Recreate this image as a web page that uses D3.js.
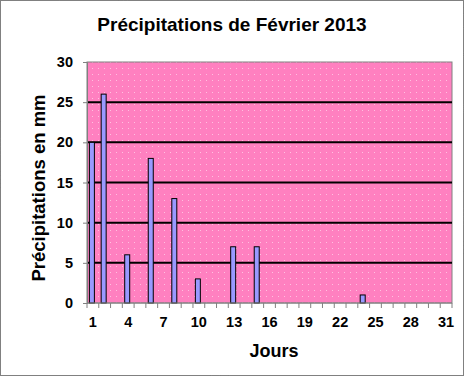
<!DOCTYPE html>
<html><head><meta charset="utf-8">
<script src="https://cdn.jsdelivr.net/npm/d3@7"></script>
<style>body{margin:0;background:#fff}svg{display:block}text{font-family:Arial,"Liberation Sans",sans-serif;font-weight:bold;fill:#000}</style>
</head><body>
<script>
const days = d3.range(1, 32);
const rain = [20,26,0,6,0,18,0,13,0,3,0,0,7,0,7,0,0,0,0,0,0,0,0,1,0,0,0,0,0,0,0];
const yTicks = [0,5,10,15,20,25,30];
const xTickLabels = [1,4,7,10,13,16,19,22,25,28,31];
const title = "Précipitations de Février 2013";
const yLabel = "Précipitations en mm";
const xLabel = "Jours";

const W = 464, H = 376;
const m = {left: 87, right: 12, top: 62, bottom: 73};
const svg = d3.select("body").append("svg").attr("width", W).attr("height", H);
const defs = svg.append("defs");
const pat = defs.append("pattern").attr("id","dots").attr("width",6).attr("height",6).attr("patternUnits","userSpaceOnUse");
pat.append("rect").attr("width",6).attr("height",6).attr("fill","#ff80c0");
pat.append("rect").attr("x",2).attr("y",2).attr("width",1).attr("height",1).attr("fill","#ffc0e0");

svg.append("rect").attr("x",0.5).attr("y",0.5).attr("width",W-1).attr("height",H-1)
  .attr("fill","#fff").attr("stroke","#000").attr("stroke-dasharray","1,1");

const x = d3.scaleBand().domain(days).range([m.left, W - m.right]).paddingInner(0).paddingOuter(0);
const y = d3.scaleLinear().domain([0,30]).range([H - m.bottom, m.top]);

svg.append("rect").attr("x", m.left).attr("y", m.top).attr("width", W - m.right - m.left).attr("height", H - m.bottom - m.top)
  .attr("fill","url(#dots)").attr("stroke","#808080").attr("stroke-width",1);

svg.append("g").selectAll("line").data(yTicks.filter(d=>d>0 && d<30)).join("line")
  .attr("x1", m.left).attr("x2", W - m.right).attr("y1", d=>y(d)).attr("y2", d=>y(d))
  .attr("stroke","#000").attr("stroke-width",2);

const bw = 5;
svg.append("g").selectAll("rect").data(days.filter((d,i)=>rain[i]>0)).join("rect")
  .attr("x", d => x(d) + x.bandwidth()/2 - bw/2 - 1)
  .attr("y", d => y(rain[d-1]))
  .attr("width", bw).attr("height", d => y(0) - y(rain[d-1]))
  .attr("fill","#9999ff").attr("stroke","#000").attr("stroke-width",1);

// y axis
const ya = svg.append("g").attr("transform",`translate(${m.left},0)`)
  .call(d3.axisLeft(y).tickValues(yTicks).tickSize(4).tickPadding(10));
ya.select(".domain").attr("stroke","#808080");
ya.selectAll("line").attr("stroke","#808080");
ya.selectAll("text").style("font-size","14.5px");

// x axis
const xa = svg.append("g").attr("transform",`translate(0,${H - m.bottom})`);
xa.append("line").attr("x1",m.left).attr("x2",W-m.right).attr("stroke","#808080");
xa.selectAll("line.t").data(days.concat([32])).join("line").attr("class","t")
  .attr("x1", d => d<=31 ? x(d) : W - m.right).attr("x2", d => d<=31 ? x(d) : W - m.right)
  .attr("y1",0).attr("y2",5).attr("stroke","#808080");
xa.selectAll("text").data(xTickLabels).join("text")
  .attr("x", d => x(d) + x.bandwidth()/2).attr("y", 24).attr("text-anchor","middle")
  .style("font-size","14.5px").text(d=>d);

svg.append("text").attr("x", 232).attr("y", 31).attr("text-anchor","middle").style("font-size","19px").text(title);
svg.append("text").attr("transform", `translate(45,188) rotate(-90)`).attr("text-anchor","middle").style("font-size","18.5px").text(yLabel);
svg.append("text").attr("x", 274).attr("y", 357).attr("text-anchor","middle").style("font-size","18px").text(xLabel);
</script>
</body></html>
